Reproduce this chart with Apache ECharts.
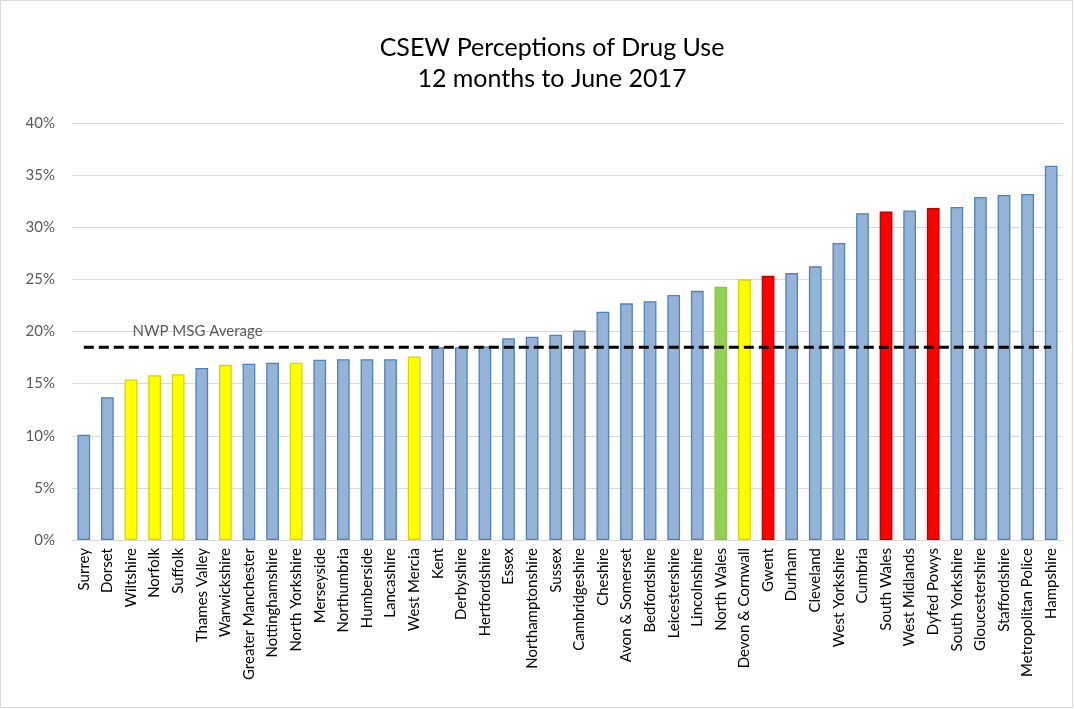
<!DOCTYPE html>
<html>
<head>
<meta charset="utf-8">
<script src="https://cdn.jsdelivr.net/npm/echarts@6/dist/echarts.min.js"></script>
<style>
html,body{margin:0;padding:0;background:#fff;}
#c{width:1074px;height:709px;}
</style>
</head>
<body>
<div id="c"></div>
<script>
const categories = ["Surrey","Dorset","Wiltshire","Norfolk","Suffolk","Thames Valley","Warwickshire","Greater Manchester","Nottinghamshire","North Yorkshire","Merseyside","Northumbria","Humberside","Lancashire","West Mercia","Kent","Derbyshire","Hertfordshire","Essex","Northamptonshire","Sussex","Cambridgeshire","Cheshire","Avon & Somerset","Bedfordshire","Leicestershire","Lincolnshire","North Wales","Devon & Cornwall","Gwent","Durham","Cleveland","West Yorkshire","Cumbria","South Wales","West Midlands","Dyfed Powys","South Yorkshire","Gloucestershire","Staffordshire","Metropolitan Police","Hampshire"];
const values = [10.1,13.7,15.4,15.8,15.9,16.5,16.8,16.9,17.0,17.0,17.3,17.35,17.35,17.35,17.6,18.5,18.5,18.55,19.35,19.5,19.7,20.1,21.9,22.7,22.9,23.5,23.9,24.3,25.0,25.35,25.6,26.25,28.5,31.35,31.5,31.6,31.85,31.95,32.9,33.1,33.2,35.9];
// group per bar: b = blue, y = yellow, r = red, g = green
const groups = ["b","b","y","y","y","b","y","b","b","y","b","b","b","b","y","b","b","b","b","b","b","b","b","b","b","b","b","g","y","r","b","b","b","b","r","b","r","b","b","b","b","b"];
const averageValue = 18.5;
const averageLabel = "NWP MSG Average";
const yTicks = [0,5,10,15,20,25,30,35,40];

const palette = {
  b:{fill:"#95B3D7",border:"#4F81BD"},
  y:{fill:"#FFFF00",border:"#D6D600"},
  r:{fill:"#FF0000",border:"#C00000"},
  g:{fill:"#92D050",border:"#9BBB59"}
};

const barData = values.map((v,i)=>({
  value:v,
  itemStyle:{color:palette[groups[i]].fill,borderColor:palette[groups[i]].border,borderWidth:1.3}
}));
const avgData = categories.map(()=>averageValue);

const chart = echarts.init(document.getElementById('c'));
chart.setOption({
  animation:false,
  backgroundColor:'#fff',
  textStyle:{fontFamily:'Lato, "Open Sans", sans-serif'},
  title:{
    text:'CSEW Perceptions of Drug Use\n12 months to June 2017',
    left:547,
    textAlign:'center',
    top:27,
    textStyle:{fontSize:25,fontWeight:'normal',color:'#000',lineHeight:31,fontFamily:'Lato, sans-serif'}
  },
  grid:{left:72,right:11,top:123,bottom:169,containLabel:false},
  xAxis:{
    type:'category',
    data:categories,
    axisLine:{show:true,lineStyle:{color:'#d9d9d9',width:1}},
    axisTick:{show:false},
    axisLabel:{rotate:90,fontSize:15,color:'#000',margin:8,interval:0,fontFamily:'Lato, sans-serif'}
  },
  yAxis:{
    type:'value',
    min:yTicks[0],max:yTicks[yTicks.length-1],interval:5,
    axisLine:{show:false},
    axisTick:{show:false},
    splitLine:{lineStyle:{color:'#d9d9d9',width:1}},
    axisLabel:{formatter:'{value}%',fontSize:15,color:'#595959',margin:17,fontFamily:'Lato, sans-serif'}
  },
  series:[
    {type:'bar',data:barData,barWidth:'54%'},
    {
      type:'line',data:avgData,symbol:'none',z:5,
      lineStyle:{color:'#000',width:3,type:[10,5]},
      markPoint:{
        symbol:'circle',symbolSize:1,
        itemStyle:{color:'rgba(0,0,0,0)'},
        data:[{coord:[categories[2],averageValue]}],
        label:{show:true,formatter:averageLabel,position:'right',offset:[-4,-16],color:'#595959',fontSize:15,fontFamily:'Lato, sans-serif'}
      }
    }
  ],
  graphic:[{type:'rect',shape:{x:0.5,y:0.5,width:1072,height:707},style:{fill:null,stroke:'#d9d9d9',lineWidth:1},silent:true}]
});
</script>
</body>
</html>
